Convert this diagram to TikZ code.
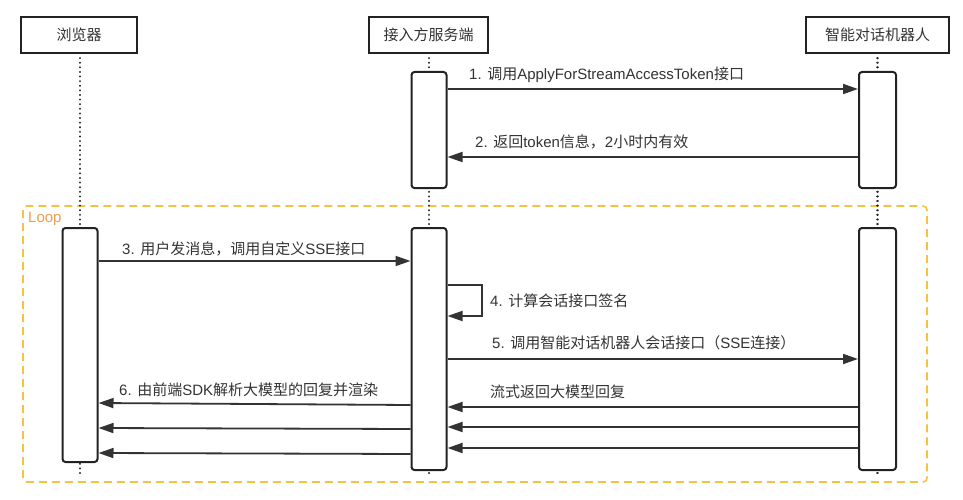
\documentclass[tikz,border=0pt]{standalone}
\usepackage{fontspec}
\setmainfont{Noto Sans CJK SC}
\newfontfamily\lat{Liberation Sans}
\usetikzlibrary{arrows.meta}
\definecolor{lc}{HTML}{333333}
\definecolor{bc}{HTML}{222222}
\definecolor{loopc}{HTML}{F5C242}
\definecolor{looptxt}{HTML}{E8A050}
\begin{document}
\begin{tikzpicture}[x=1pt,y=-1pt,
  hdr/.style={draw=bc, line width=2.2pt, fill=white, minimum height=36pt, inner sep=0pt, text=black!80, font=\fontsize{15}{18}\selectfont},
  act/.style={draw=bc, line width=2pt, fill=white, rounded corners=3pt, minimum width=35pt, inner sep=0pt},
  life/.style={draw=bc, line width=2.3pt, line cap=round, dash pattern=on 0.01pt off 4.6pt},
  msg/.style={draw=lc, line width=1.8pt, -{Triangle[length=15pt,width=10pt]}},
  lbl/.style={anchor=base west, inner sep=0pt, text=black!80, font=\fontsize{15}{18}\selectfont},
  loopbox/.style={draw=loopc, line width=1.6pt, dash pattern=on 8pt off 5pt, rounded corners=4pt}
]
\useasboundingbox (0,0) rectangle (963,500);

% loop frame
\draw[loopbox] (23,206) rectangle (927,482);
\node[anchor=base west, inner sep=0pt, text=looptxt, font=\lat\fontsize{15}{17}\selectfont] (looplbl) at (28,222) {Loop};

% headers
\node[hdr, minimum width=116pt] (hb) at (79,35) {浏览器};
\node[hdr, minimum width=119pt] (hs) at (428.5,35) {接入方服务端};
\node[hdr, minimum width=143pt] (hr) at (877.5,35) {智能对话机器人};

% lifeline ends
\coordinate (eb) at (80,476);
\coordinate (es) at (429,475);
\coordinate (er) at (877.5,475);
\draw[life] (hb.south -| eb) ++(0,4) -- (eb);
\draw[life] (hs.south -| es) ++(0,4) -- (es);
\draw[life] (hr.south -| er) ++(0,4) -- (er);

% activations
\node[act, minimum height=116pt] (sa1) at (429,130) {};
\node[act, minimum height=116pt, minimum width=37pt] (ra1) at (877.5,130) {};
\node[act, minimum height=234pt] (ba2) at (80,345) {};
\node[act, minimum height=242pt] (sa2) at (429,349) {};
\node[act, minimum height=242pt, minimum width=37pt] (ra2) at (877.5,349) {};

% messages
\draw[msg] (sa1.east |- 0,89) -- (ra1.west |- 0,89);
\node[lbl] (l1) at (469,80) {{\lat 1. }调用{\lat ApplyForStreamAccessToken}接口};

\draw[msg] (ra1.west |- 0,157) -- (sa1.east |- 0,157);
\node[lbl] (l2) at (475,147) {{\lat 2. }返回{\lat token}信息，{\lat 2}小时内有效};

\draw[msg] (ba2.east |- 0,261) -- (sa2.west |- 0,261);
\node[lbl] (l3) at (122,254) {{\lat 3. }用户发消息，调用自定义{\lat SSE}接口};

\coordinate (selfc) at (482,285);
\draw[msg] (sa2.east |- selfc) -- (selfc) -- (selfc |- 0,316) -- (sa2.east |- 0,316);
\node[lbl] (l4) at (490,306) {{\lat 4. }计算会话接口签名};

\draw[msg] (sa2.east |- 0,359) -- (ra2.west |- 0,359);
\node[lbl] (l5) at (492,348) {{\lat 5. }调用智能对话机器人会话接口（{\lat SSE}连接）};

\draw[msg] (sa2.west |- 0,405) -- (ba2.east |- 0,403);
\draw[msg] (sa2.west |- 0,429) -- (ba2.east |- 0,428);
\draw[msg] (sa2.west |- 0,454) -- (ba2.east |- 0,453);
\node[lbl] (l6) at (119,395) {{\lat 6. }由前端{\lat SDK}解析大模型的回复并渲染};

\draw[msg] (ra2.west |- 0,407) -- (sa2.east |- 0,407);
\draw[msg] (ra2.west |- 0,427) -- (sa2.east |- 0,427);
\draw[msg] (ra2.west |- 0,448) -- (sa2.east |- 0,448);
\node[lbl] (l7) at (490,397) {流式返回大模型回复};
\end{tikzpicture}
\end{document}
